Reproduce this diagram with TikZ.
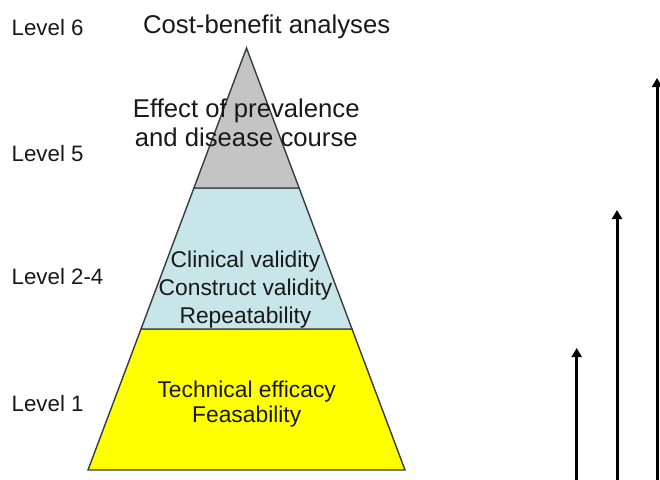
\documentclass[tikz,border=0pt]{standalone}
\usepackage{fontspec}
\setmainfont{Liberation Sans}
\usetikzlibrary{arrows.meta}
\definecolor{tier6}{RGB}{196,196,196}
\definecolor{tier24}{RGB}{200,230,234}
\definecolor{tier1}{RGB}{255,255,0}
\definecolor{edgec}{RGB}{55,60,65}
\definecolor{txt}{RGB}{25,25,25}
\tikzset{
  tier/.style={draw=edgec, line width=1.4pt, line join=miter},
  levellabel/.style={anchor=base west, inner sep=0pt, text=txt, font=\fontsize{22.3}{26}\selectfont},
  bigtext/.style={anchor=base, inner sep=0pt, align=center, text=txt, font=\fontsize{25.7}{29.5}\selectfont},
  midtext/.style={anchor=base, inner sep=0pt, align=center, text=txt, font=\fontsize{22.8}{27.6}\selectfont},
  lowtext/.style={anchor=base, inner sep=0pt, align=center, text=txt, font=\fontsize{22.8}{25}\selectfont},
  uparrow/.style={line width=3pt, -{Triangle[width=10pt,length=9pt]}}
}
\begin{document}
\begin{tikzpicture}[x=1pt,y=-1pt]
\useasboundingbox (0,0) rectangle (660,479);
% pyramid tiers
\path[tier, fill=tier1] (88,470) -- (405,470) -- (352,329) -- (141,329) -- cycle;
\path[tier, fill=tier24] (141,329) -- (352,329) -- (299.1,188) -- (193.9,188) -- cycle;
\path[tier, fill=tier6] (193.9,188) -- (299.1,188) -- (246.5,48) -- cycle;
% level labels
\node[levellabel] (l6) at (11.5,35) {Level 6};
\node[levellabel] (l5) at (11.5,161.7) {Level 5};
\node[levellabel] (l24) at (11.5,284) {Level 2-4};
\node[levellabel] (l1) at (11.5,411.7) {Level 1};
% tier texts (base anchor = baseline of last line)
\node[bigtext] (cost) at (266.7,33) {Cost-benefit analyses};
\node[bigtext] (effect) at (246.3,146.9) {Effect of prevalence\\and disease course};
\node[midtext] (clin) at (245.5,323) {Clinical validity\\Construct validity\\Repeatability};
\node[lowtext] (tech) at (246.7,422.8) {Technical efficacy\\Feasability};
% arrows
\coordinate (a1s) at (576.7,482);
\coordinate (a1e) at (576.7,348);
\coordinate (a2s) at (617,482);
\coordinate (a2e) at (617,210);
\coordinate (a3s) at (657,482);
\coordinate (a3e) at (657,78);
\draw[uparrow] (a1s) -- (a1e);
\draw[uparrow] (a2s) -- (a2e);
\draw[uparrow] (a3s) -- (a3e);
\end{tikzpicture}
\end{document}
